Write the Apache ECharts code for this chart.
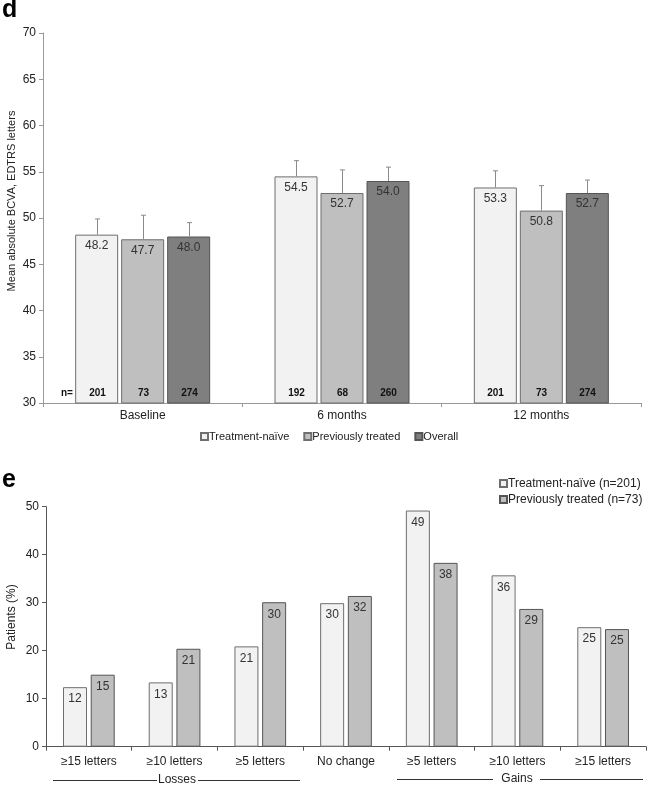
<!DOCTYPE html>
<html><head><meta charset="utf-8">
<script src="https://cdn.jsdelivr.net/npm/echarts@6/dist/echarts.min.js"></script>
<style>html,body{margin:0;padding:0;background:#fff}#c{width:649px;height:786px}</style>
</head><body><div id="c"></div>
<script>
// ---- Panel d data ----
const timepoints = ['Baseline', '6 months', '12 months'];
const meanNaive = [48.2, 54.5, 53.3];
const meanPrev = [47.7, 52.7, 50.8];
const meanOverall = [48.0, 54.0, 52.7];
const upperNaive = [49.9, 56.2, 55.1];
const upperPrev = [50.3, 55.2, 53.5];
const upperOverall = [49.5, 55.5, 54.1];
const nNaive = [201, 192, 201];
const nPrev = [73, 68, 73];
const nOverall = [274, 260, 274];

// ---- Panel e data ----
const changeCats = ['≥15 letters', '≥10 letters', '≥5 letters', 'No change', '≥5 letters', '≥10 letters', '≥15 letters'];
const pctNaive = [12.4, 13.4, 20.9, 29.9, 49.2, 35.7, 24.9];
const pctPrev = [15.0, 20.4, 30.1, 31.4, 38.3, 28.7, 24.5];
const labelNaive = ['12', '13', '21', '30', '49', '36', '25'];
const labelPrev = ['15', '21', '30', '32', '38', '29', '25'];

const FONT = 'Liberation Sans, Arial, sans-serif';
const C_NAIVE = '#f2f2f2', C_PREV = '#bfbfbf', C_OVR = '#7f7f7f';
const BW_D = 43, GAP_D = 3;
const BW_E = 24, GAP_E = 3.7;

function errSeries(idx, means, uppers, ns) {
  return {
    type: 'custom', xAxisIndex: 0, yAxisIndex: 0, z: 5, silent: true,
    data: means.map((m, i) => [i, m, uppers[i], ns[i]]),
    renderItem(params, api) {
      const cat = api.value(0);
      const c0 = api.coord([cat, api.value(1)]);
      const c1 = api.coord([cat, api.value(2)]);
      const cb = api.coord([cat, 30]);
      const x = Math.round(c0[0] + (idx - 1) * (BW_D + GAP_D)) + 0.5;
      return { type: 'group', children: [
        { type: 'line', shape: { x1: x, y1: c0[1], x2: x, y2: c1[1] }, style: { stroke: '#8a8a8a', lineWidth: 1 } },
        { type: 'line', shape: { x1: x - 2.5, y1: c1[1], x2: x + 2.5, y2: c1[1] }, style: { stroke: '#8a8a8a', lineWidth: 1 } },
        { type: 'text', x: x, y: cb[1] - 10, style: { text: String(api.value(3)), font: 'bold 10px ' + FONT, fill: '#111', align: 'center', verticalAlign: 'middle' } }
      ]};
    }
  };
}

const axisTxt = { color: '#222', fontSize: 12, fontFamily: FONT };

const option = {
  animation: false,
  textStyle: { fontFamily: FONT },
  grid: [
    { left: 43, top: 33, width: 598, height: 370 },
    { left: 46, top: 506.7, width: 600, height: 240 }
  ],
  xAxis: [
    { type: 'category', gridIndex: 0, data: timepoints,
      axisLine: { lineStyle: { color: '#999' } },
      axisTick: { show: true, alignWithLabel: false, length: 4, lineStyle: { color: '#999' } },
      axisLabel: { ...axisTxt, margin: 7 } },
    { type: 'category', gridIndex: 1, data: changeCats,
      axisLine: { lineStyle: { color: '#555' } },
      axisTick: { show: true, length: 4, lineStyle: { color: '#555' } },
      axisLabel: { ...axisTxt, margin: 9 } }
  ],
  yAxis: [
    { type: 'value', gridIndex: 0, min: 30, max: 70, interval: 5,
      axisLine: { show: true, lineStyle: { color: '#999' } },
      axisTick: { show: true, length: 4, lineStyle: { color: '#999' } },
      splitLine: { show: false },
      axisLabel: { ...axisTxt, margin: 7 } },
    { type: 'value', gridIndex: 1, min: 0, max: 50, interval: 10,
      axisLine: { show: true, lineStyle: { color: '#555' } },
      axisTick: { show: true, length: 4, lineStyle: { color: '#555' } },
      splitLine: { show: false },
      axisLabel: { ...axisTxt, margin: 7 } }
  ],
  legend: [
    { data: ['Treatment-naïve', 'Previously treated', 'Overall'], left: 195, top: 426,
      icon: 'rect', itemWidth: 7, itemHeight: 7, itemGap: 14,
      textStyle: { fontSize: 11, color: '#222', fontFamily: FONT, padding: [0, 0, 0, -4] } },
    { data: ['Treatment-naïve (n=201)', 'Previously treated (n=73)'], orient: 'vertical', left: 494, top: 472,
      icon: 'rect', itemWidth: 7, itemHeight: 7, itemGap: 3,
      textStyle: { fontSize: 12, color: '#222', fontFamily: FONT, lineHeight: 13, padding: [0, 0, 0, -4] } }
  ],
  graphic: [
    { type: 'text', left: 2, top: -2, style: { text: 'd', font: 'bold 25px ' + FONT, fill: '#000' } },
    { type: 'text', left: 2, top: 468, style: { text: 'e', font: 'bold 25px ' + FONT, fill: '#000' } },
    { type: 'text', x: 12, y: 201, rotation: Math.PI / 2, style: { text: 'Mean absolute BCVA, EDTRS letters', font: '11px ' + FONT, fill: '#222', align: 'center', verticalAlign: 'middle' } },
    { type: 'text', x: 12, y: 617, rotation: Math.PI / 2, style: { text: 'Patients (%)', font: '12px ' + FONT, fill: '#222', align: 'center', verticalAlign: 'middle' } },
    { type: 'text', x: 61, y: 393, style: { text: 'n=', font: 'bold 10px ' + FONT, fill: '#111', align: 'left', verticalAlign: 'middle' } },
    { type: 'line', shape: { x1: 53, y1: 780.5, x2: 157, y2: 780.5 }, style: { stroke: '#333', lineWidth: 1 } },
    { type: 'line', shape: { x1: 198, y1: 780.5, x2: 300, y2: 780.5 }, style: { stroke: '#333', lineWidth: 1 } },
    { type: 'text', x: 177, y: 780, style: { text: 'Losses', font: '12px ' + FONT, fill: '#222', align: 'center', verticalAlign: 'middle' } },
    { type: 'line', shape: { x1: 397, y1: 779.5, x2: 493, y2: 779.5 }, style: { stroke: '#333', lineWidth: 1 } },
    { type: 'line', shape: { x1: 540, y1: 779.5, x2: 643, y2: 779.5 }, style: { stroke: '#333', lineWidth: 1 } },
    { type: 'text', x: 517, y: 779, style: { text: 'Gains', font: '12px ' + FONT, fill: '#222', align: 'center', verticalAlign: 'middle' } }
  ],
  series: [
    { name: 'Treatment-naïve', type: 'bar', xAxisIndex: 0, yAxisIndex: 0, data: meanNaive,
      barWidth: BW_D, barGap: (GAP_D / BW_D * 100) + '%',
      itemStyle: { color: C_NAIVE, borderColor: '#6e6e6e', borderWidth: 1 },
      label: { show: true, position: 'insideTop', distance: 5, color: '#333', fontSize: 12, formatter: p => p.value.toFixed(1) } },
    { name: 'Previously treated', type: 'bar', xAxisIndex: 0, yAxisIndex: 0, data: meanPrev,
      barWidth: BW_D, barGap: (GAP_D / BW_D * 100) + '%',
      itemStyle: { color: C_PREV, borderColor: '#6e6e6e', borderWidth: 1 },
      label: { show: true, position: 'insideTop', distance: 5, color: '#333', fontSize: 12, formatter: p => p.value.toFixed(1) } },
    { name: 'Overall', type: 'bar', xAxisIndex: 0, yAxisIndex: 0, data: meanOverall,
      barWidth: BW_D, barGap: (GAP_D / BW_D * 100) + '%',
      itemStyle: { color: C_OVR, borderColor: '#555', borderWidth: 1 },
      label: { show: true, position: 'insideTop', distance: 5, color: '#333', fontSize: 12, formatter: p => p.value.toFixed(1) } },
    errSeries(0, meanNaive, upperNaive, nNaive),
    errSeries(1, meanPrev, upperPrev, nPrev),
    errSeries(2, meanOverall, upperOverall, nOverall),
    { name: 'Treatment-naïve (n=201)', type: 'bar', xAxisIndex: 1, yAxisIndex: 1, data: pctNaive,
      barWidth: BW_E, barGap: (GAP_E / BW_E * 100) + '%',
      itemStyle: { color: C_NAIVE, borderColor: '#6e6e6e', borderWidth: 1 },
      label: { show: true, position: 'insideTop', distance: 6, color: '#333', fontSize: 12, formatter: p => labelNaive[p.dataIndex] } },
    { name: 'Previously treated (n=73)', type: 'bar', xAxisIndex: 1, yAxisIndex: 1, data: pctPrev,
      barWidth: BW_E, barGap: (GAP_E / BW_E * 100) + '%',
      itemStyle: { color: C_PREV, borderColor: '#555', borderWidth: 1 },
      label: { show: true, position: 'insideTop', distance: 6, color: '#333', fontSize: 12, formatter: p => labelPrev[p.dataIndex] } }
  ]
};

const chart = echarts.init(document.getElementById('c'), null, { renderer: 'canvas' });
chart.setOption(option);
</script>
</body></html>
